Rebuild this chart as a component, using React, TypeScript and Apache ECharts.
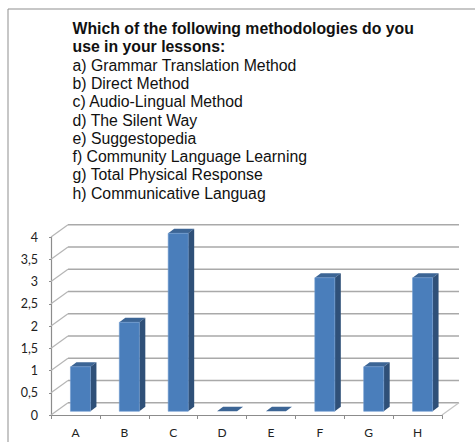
import React, { useEffect, useRef } from "react";
import * as echarts from "echarts";

const titleLines = ["Which of the following methodologies do you", "use in your lessons:"];
const optionLines = [
  "a) Grammar Translation Method",
  "b) Direct Method",
  "c) Audio-Lingual Method",
  "d) The Silent Way",
  "e) Suggestopedia",
  "f) Community Language Learning",
  "g) Total Physical Response",
  "h) Communicative Languag",
];
const categories = ["A", "B", "C", "D", "E", "F", "G", "H"];
const values = [1, 2, 4, 0, 0, 3, 1, 3];
const gridValues = [0, 0.5, 1, 1.5, 2, 2.5, 3, 3.5, 4];

const DX = 17;
const DY = 12.3;
const GRID_COLOR = "#a9a9a9";

export default function App() {
  const ref = useRef<HTMLDivElement>(null);
  useEffect(() => {
    document.body.style.margin = "0";
    const chart = echarts.init(ref.current!, undefined, { renderer: "svg" });
    const textLines = [...titleLines, ...optionLines];
    chart.setOption({
      animation: false,
      backgroundColor: "#ffffff",
      grid: { left: 51, right: 33, top: 237, bottom: 27 },
      xAxis: {
        type: "category",
        data: categories,
        axisLine: { lineStyle: { color: "#8c8c8c", width: 1.2 } },
        axisTick: { show: true, alignWithLabel: false, length: 4, lineStyle: { color: "#8c8c8c" } },
        axisLabel: { color: "#222", fontFamily: "Lato", fontSize: 12, margin: 11 },
      },
      yAxis: {
        type: "value",
        min: 0,
        max: 4,
        interval: 0.5,
        axisLine: { show: true, lineStyle: { color: "#8c8c8c", width: 1.2 } },
        axisTick: { show: true, length: 2, lineStyle: { color: "#8c8c8c" } },
        splitLine: { show: false },
        axisLabel: {
          color: "#222",
          fontFamily: "Lato",
          fontSize: 12.5,
          margin: 13,
          formatter: (v: number) => String(v).replace(".", ","),
        },
      },
      series: [
        {
          type: "custom",
          silent: true,
          clip: false,
          z: 1,
          data: gridValues.map((v) => [0, v]),
          renderItem: (_p: any, api: any) => {
            const v = api.value(1);
            const [, y] = api.coord([0, v]);
            const rect = _p.coordSys;
            const x0 = rect.x;
            const x1 = rect.x + rect.width;
            const children: any[] = [
              {
                type: "line",
                shape: { x1: x0, y1: y, x2: x0 + DX, y2: y - DY },
                style: { stroke: "#b5b5b5", lineWidth: 1.2 },
              },
              {
                type: "line",
                shape: { x1: x0 + DX, y1: y - DY, x2: x1 + DX, y2: y - DY },
                style: { stroke: GRID_COLOR, lineWidth: 1.4 },
              },
            ];
            if (v === 0) {
              children.push({
                type: "line",
                shape: { x1: x1, y1: y, x2: x1 + DX, y2: y - DY },
                style: { stroke: "#c4c4c4", lineWidth: 1.2 },
              });
            }
            return { type: "group", children };
          },
        },
        {
          type: "custom",
          silent: true,
          clip: false,
          z: 2,
          encode: { x: 0, y: 1 },
          data: values.map((v, i) => [i, v]),
          renderItem: (_p: any, api: any) => {
            const [cx, top] = api.coord([api.value(0), api.value(1)]);
            const [, base] = api.coord([api.value(0), 0]);
            const w = 20;
            const dx = 6;
            const dy = 4.6;
            const shiftX = 5;
            const shiftY = -3.7;
            const l = cx + shiftX - w / 2;
            const r = l + w;
            const t = top + shiftY;
            const b = base + shiftY;
            const children: any[] = [
              {
                type: "polygon",
                shape: { points: [[l, t], [r, t], [r + dx, t - dy], [l + dx, t - dy]] },
                style: { fill: "#3c6595" },
              },
            ];
            if (b - t > 0.5) {
              children.push(
                {
                  type: "polygon",
                  shape: { points: [[r, t], [r + dx, t - dy], [r + dx, b - dy], [r, b]] },
                  style: { fill: "#2f5078" },
                },
                {
                  type: "rect",
                  shape: { x: l, y: t, width: w, height: b - t },
                  style: { fill: "#4a7ebb", stroke: "#6f9bd0", lineWidth: 0.6 },
                }
              );
            }
            return { type: "group", children };
          },
        },
      ],
      graphic: [
        {
          type: "line",
          silent: true,
          shape: { x1: 8, y1: 9, x2: 475, y2: 9 },
          style: { stroke: "#8f8f8f", lineWidth: 1 },
        },
        {
          type: "line",
          silent: true,
          shape: { x1: 8, y1: 9, x2: 8, y2: 442 },
          style: { stroke: "#8f8f8f", lineWidth: 1 },
        },
        ...textLines.map((line, i) => ({
          type: "text",
          silent: true,
          x: 72.5,
          y: 28.5 + i * 18.3,
          style: {
            text: line,
            fill: "#111",
            fontFamily: "Liberation Sans",
            fontSize: 15.8,
            fontWeight: i < titleLines.length ? "bold" : "normal",
            verticalAlign: "middle",
          },
        })),
      ],
    });
    return () => chart.dispose();
  }, []);
  return <div ref={ref} style={{ width: 475, height: 442 }} />;
}
